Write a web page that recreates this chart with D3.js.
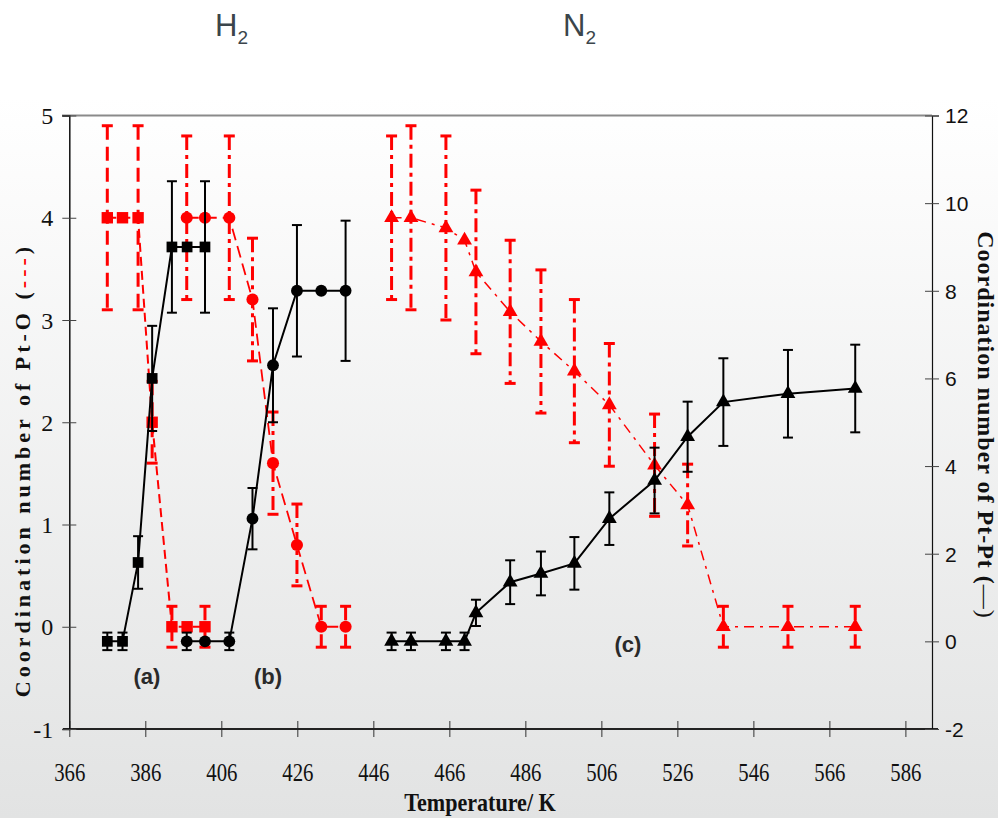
<!DOCTYPE html>
<html>
<head>
<meta charset="utf-8">
<script src="https://cdnjs.cloudflare.com/ajax/libs/d3/7.8.5/d3.min.js"></script>
<style>
  html, body { margin: 0; padding: 0; background: #fff; }
  svg { display: block; }
</style>
</head>
<body>
<svg id="chart" width="998" height="818"></svg>
<script>
// Pt coordination numbers vs temperature -- H2 (a, b) and N2 (c) runs

// (a) squares
var tempA = [376, 380, 384.1, 387.8, 393, 397, 401.7];
var ptoA = [4, 4, 4, 2, 0, 0, 0];
var ptoErrA = [0.9, null, 0.9, 0.4, 0.2, null, 0.2];
var ptptA = [0, 0, 1.8, 6.0, 9.0, 9.0, 9.0];
var ptptErrA = [0.2, 0.2, 0.6, 1.2, 1.5, null, 1.5];

// (b) circles
var tempB = [396.9, 401.7, 408.1, 414.2, 419.6, 425.9, 432.3, 438.7];
var ptoB = [4, 4, 4, 3.2, 1.6, 0.8, 0, 0];
var ptoErrB = [0.8, null, 0.8, 0.6, 0.5, 0.4, 0.2, 0.2];
var ptptB = [0, 0, 0, 2.8, 6.3, 8.0, 8.0, 8.0];
var ptptErrB = [0.2, null, 0.2, 0.7, 1.3, 1.5, null, 1.6];

// (c) triangles
var tempC = [450.8, 455.9, 465.1, 470, 473, 482, 490.1, 498.9, 508.1, 520, 528.7, 538.1, 555.1, 572.8];
var ptoC = [4.0, 4.0, 3.9, 3.78, 3.47, 3.08, 2.79, 2.5, 2.17, 1.58, 1.19, 0, 0, 0];
var ptoErrC = [0.8, 0.9, 0.9, null, 0.8, 0.7, 0.7, 0.7, 0.6, 0.5, 0.4, 0.2, 0.2, 0.2];
var ptptC = [0, 0, 0, 0, 0.65, 1.35, 1.55, 1.78, 2.8, 3.67, 4.67, 5.46, 5.65, 5.77];
var ptptErrC = [0.2, 0.2, 0.2, 0.2, 0.3, 0.5, 0.5, 0.6, 0.6, 0.75, 0.8, 1.0, 1.0, 1.0];

var xTicks = [366, 386, 406, 426, 446, 466, 486, 506, 526, 546, 566, 586];
var leftTicks = [-1, 0, 1, 2, 3, 4, 5];
var rightTicks = [-2, 0, 2, 4, 6, 8, 10, 12];
var panelLabels = ["(a)", "(b)", "(c)"];
var gasLabels = ["H", "N"];

///////////////////////////////////////////////////////////////////////////////
// Scales

var svg = d3.select("#chart");

var x = d3.scaleLinear().domain([366, 593]).range([69.3, 932]);
var yLeft = d3.scaleLinear().domain([-1, 5]).range([729, 115.5]);
var yRight = d3.scaleLinear().domain([-2, 12]).range([729, 115.5]);

var zip = function (xs, ys, es) {
  return xs.map(function (t, i) { return {t: t, v: ys[i], e: es[i]}; });
};
// plain hyphen minus, like the original
var plain = function (d) { return String(d); };

var RED = "#ff0000", BLACK = "#000000";
var serif = "'Liberation Serif', 'Times New Roman', serif";
var sans = "'Liberation Sans', Arial, sans-serif";

var series = [
  {pts: zip(tempA, ptoA, ptoErrA), y: yLeft, color: RED, shape: d3.symbolSquare, size: 130,
   line: "9,5", bar: "14,7", lw: 2},
  {pts: zip(tempB, ptoB, ptoErrB), y: yLeft, color: RED, shape: d3.symbolCircle, size: 115,
   line: "12,6", bar: "14,5,4,5", lw: 1.8},
  {pts: zip(tempC, ptoC, ptoErrC), y: yLeft, color: RED, shape: d3.symbolTriangle, size: 95,
   line: "10,6,3,6", bar: "14,5,4,5", lw: 1.5},
  {pts: zip(tempA, ptptA, ptptErrA), y: yRight, color: BLACK, shape: d3.symbolSquare, size: 115,
   line: null, bar: null, lw: 2},
  {pts: zip(tempB, ptptB, ptptErrB), y: yRight, color: BLACK, shape: d3.symbolCircle, size: 110,
   line: null, bar: null, lw: 2},
  {pts: zip(tempC, ptptC, ptptErrC), y: yRight, color: BLACK, shape: d3.symbolTriangle, size: 95,
   line: null, bar: null, lw: 2}
];

///////////////////////////////////////////////////////////////////////////////
// Background

var defs = svg.append("defs");
var grad = defs.append("linearGradient").attr("id", "bg")
  .attr("x1", 0).attr("y1", 0).attr("x2", 0).attr("y2", 1);
grad.append("stop").attr("offset", "0.12").attr("stop-color", "#ffffff");
grad.append("stop").attr("offset", "1").attr("stop-color", "#e2e3e3");
svg.append("rect").attr("width", 998).attr("height", 818).attr("fill", "url(#bg)");

// frame: gray top, black axes
svg.append("line")
  .attr("x1", 62).attr("x2", 932).attr("y1", 115.5).attr("y2", 115.5)
  .attr("stroke", "#8a8a8a").attr("stroke-width", 2);

///////////////////////////////////////////////////////////////////////////////
// Axes

var xAxis = svg.append("g")
  .attr("transform", "translate(0,729)")
  .call(d3.axisBottom(x).tickValues(xTicks).tickFormat(plain).tickSizeOuter(0).tickSize(8));
xAxis.attr("font-family", serif).attr("font-size", 26);
xAxis.select(".domain").remove();
xAxis.selectAll(".tick line").attr("y1", -8).attr("y2", 8).attr("stroke", "#333");
xAxis.selectAll(".tick text")
  .attr("x", 0).attr("y", 52).attr("dy", 0)
  .attr("transform", "scale(0.8,1)")
  .attr("fill", "#111");
svg.append("line")
  .attr("x1", 63).attr("x2", 938).attr("y1", 729).attr("y2", 729)
  .attr("stroke", "#222").attr("stroke-width", 2);

var leftAxis = svg.append("g")
  .attr("transform", "translate(69.3,0)")
  .call(d3.axisLeft(yLeft).tickValues(leftTicks).tickFormat(plain).tickSizeOuter(0).tickSize(7));
leftAxis.attr("font-family", serif).attr("font-size", 24);
leftAxis.select(".domain").attr("stroke", "#111").attr("stroke-width", 1.5);
leftAxis.selectAll(".tick line").attr("x1", -7).attr("x2", 7).attr("stroke", "#444");
leftAxis.selectAll(".tick text")
  .attr("x", -16).attr("dy", "0.34em")
  .attr("fill", "#111");

var rightAxis = svg.append("g")
  .attr("transform", "translate(932,0)")
  .call(d3.axisRight(yRight).tickValues(rightTicks).tickFormat(plain).tickSizeOuter(0).tickSize(7));
rightAxis.attr("font-family", sans).attr("font-size", 21);
rightAxis.select(".domain").attr("stroke", "#111").attr("stroke-width", 1.2);
rightAxis.selectAll(".tick line").attr("x1", -7).attr("x2", 7).attr("stroke", "#444");
rightAxis.selectAll(".tick text")
  .attr("x", 13).attr("dy", "0.35em")
  .attr("fill", "#111");

///////////////////////////////////////////////////////////////////////////////
// Series: connecting lines, error bars, markers

series.forEach(function (s) {
  var g = svg.append("g");
  var line = d3.line()
    .x(function (d) { return x(d.t); })
    .y(function (d) { return s.y(d.v); });

  g.append("path")
    .datum(s.pts)
    .attr("d", line)
    .attr("fill", "none")
    .attr("stroke", s.color)
    .attr("stroke-width", s.lw)
    .attr("stroke-dasharray", s.line);

  var bars = g.selectAll(".err")
    .data(s.pts.filter(function (d) { return d.e != null; }))
    .enter().append("g").attr("class", "err");
  var barW = s.color === RED ? 3 : 2;
  var cap = s.color === RED ? 5.5 : 5;
  bars.append("line")
    .attr("x1", function (d) { return x(d.t); })
    .attr("x2", function (d) { return x(d.t); })
    .attr("y1", function (d) { return s.y(d.v + d.e); })
    .attr("y2", function (d) { return s.y(d.v - d.e); })
    .attr("stroke", s.color).attr("stroke-width", barW)
    .attr("stroke-dasharray", s.bar);
  [1, -1].forEach(function (sign) {
    bars.append("line")
      .attr("x1", function (d) { return x(d.t) - cap; })
      .attr("x2", function (d) { return x(d.t) + cap; })
      .attr("y1", function (d) { return s.y(d.v + sign * d.e); })
      .attr("y2", function (d) { return s.y(d.v + sign * d.e); })
      .attr("stroke", s.color).attr("stroke-width", barW);
  });

  g.selectAll(".mark")
    .data(s.pts)
    .enter().append("path")
    .attr("class", "mark")
    .attr("transform", function (d) { return "translate(" + x(d.t) + "," + s.y(d.v) + ")"; })
    .attr("d", d3.symbol().type(s.shape).size(s.size))
    .attr("fill", s.color);
});

///////////////////////////////////////////////////////////////////////////////
// Labels

svg.append("text")
  .attr("transform", "translate(480,811) scale(0.85,1)")
  .attr("text-anchor", "middle")
  .style("font-family", serif).style("font-size", "26px").style("font-weight", "bold")
  .attr("fill", "#111")
  .text("Temperature/ K");

var lt = svg.append("text")
  .attr("transform", "translate(30,470) rotate(-90)")
  .attr("text-anchor", "middle")
  .style("font-family", serif).style("font-size", "22px").style("font-weight", "bold")
  .style("letter-spacing", "4px")
  .attr("fill", "#111");
lt.append("tspan").text("Coordination number of Pt-O (");
lt.append("tspan").attr("fill", RED).text("---");
lt.append("tspan").text(")");

var rt = svg.append("text")
  .attr("transform", "translate(978,425) rotate(90)")
  .attr("text-anchor", "middle")
  .style("font-family", serif).style("font-size", "24px").style("font-weight", "bold")
  .style("letter-spacing", "1px")
  .attr("fill", "#111");
rt.append("tspan").text("Coordination number of Pt-Pt (");
rt.append("tspan").style("font-weight", "normal").text("\u2014");
rt.append("tspan").style("font-weight", "normal").text(")");

// panel labels
var panelPos = [[147, 684], [268, 684], [628, 652]];
panelLabels.forEach(function (lab, i) {
  svg.append("text")
    .attr("x", panelPos[i][0]).attr("y", panelPos[i][1])
    .attr("text-anchor", "middle")
    .style("font-family", sans).style("font-size", "22px").style("font-weight", "bold")
    .attr("fill", "#2a2a2a")
    .text(lab);
});

// gas headers
var gasPos = [215, 563];
gasLabels.forEach(function (lab, i) {
  var t = svg.append("text")
    .attr("x", gasPos[i]).attr("y", 36)
    .style("font-family", sans).style("font-size", "31px")
    .attr("fill", "#3b454b");
  t.append("tspan").text(lab);
  t.append("tspan").attr("dy", 8).style("font-size", "19px").text("2");
});
</script>
</body>
</html>
